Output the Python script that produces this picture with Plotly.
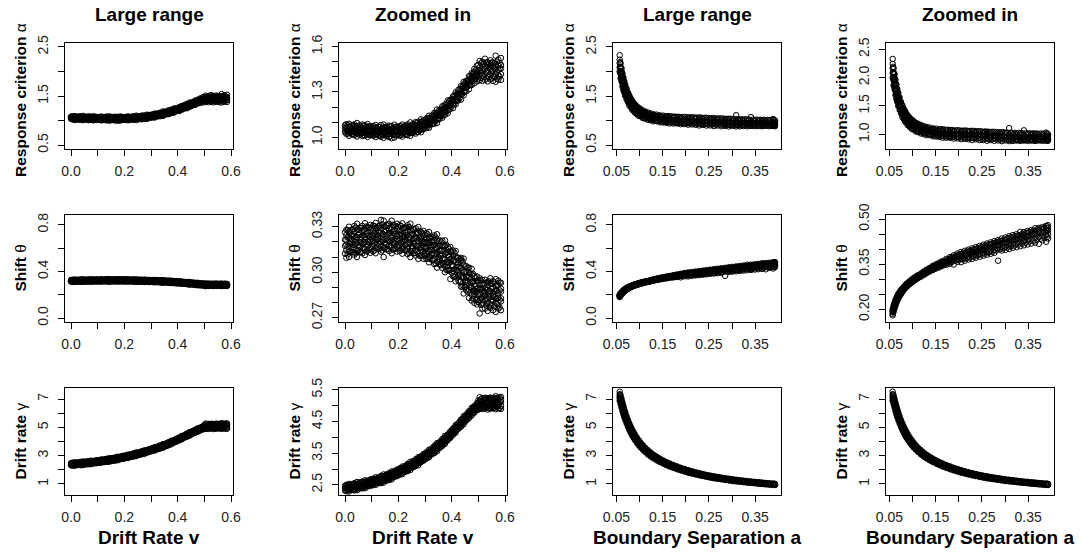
import plotly.graph_objects as go

# ---------------- data ----------------
v_grid = [0.005,0.015,0.025,0.035,0.045,0.055,0.065,0.075,0.085,0.095,
          0.105,0.115,0.125,0.135,0.145,0.155,0.165,0.175,0.185,0.195,
          0.205,0.215,0.225,0.235,0.245,0.255,0.265,0.275,0.285,0.295,
          0.305,0.315,0.325,0.335,0.345,0.355,0.365,0.375,0.385,0.395,
          0.405,0.415,0.425,0.435,0.445,0.455,0.465,0.475,0.485,0.495,
          0.505,0.515,0.525,0.535,0.545,0.555,0.565,0.575,0.585]
v_grid_b = [0.000,0.010,0.020,0.030,0.040,0.050,0.060,0.070,0.080,0.090,
            0.100,0.110,0.120,0.130,0.140,0.150,0.160,0.170,0.180,0.190,
            0.200,0.210,0.220,0.230,0.240,0.250,0.260,0.270,0.280,0.290,
            0.300,0.310,0.320,0.330,0.340,0.350,0.360,0.370,0.380,0.390,
            0.400,0.410,0.420,0.430,0.440,0.450,0.460,0.470,0.480,0.490,
            0.500,0.510,0.520,0.530,0.540,0.550,0.560,0.570,0.580]

alpha_v_1 = [1.023,1.010,1.022,1.014,1.006,1.018,1.009,1.012,1.003,1.015,
             1.011,1.002,1.013,1.004,0.996,1.010,1.002,0.994,0.999,1.013,
             1.011,1.005,1.019,1.014,1.010,1.028,1.025,1.035,1.034,1.055,
             1.061,1.063,1.086,1.090,1.095,1.123,1.130,1.150,1.159,1.190,
             1.193,1.218,1.244,1.250,1.278,1.304,1.318,1.346,1.358,1.370,
             1.378,1.373,1.380,1.370,1.383,1.373,1.367,1.382,1.380]
alpha_v_2 = [1.043,1.030,1.042,1.034,1.028,1.038,1.029,1.032,1.021,1.038,
             1.031,1.022,1.033,1.024,1.018,1.030,1.022,1.026,1.017,1.036,
             1.031,1.025,1.039,1.034,1.032,1.048,1.045,1.055,1.052,1.078,
             1.081,1.083,1.106,1.110,1.117,1.143,1.150,1.170,1.177,1.213,
             1.220,1.238,1.265,1.284,1.300,1.330,1.348,1.372,1.384,1.401,
             1.410,1.408,1.420,1.403,1.415,1.405,1.420,1.410,1.418]
alpha_v_3 = [1.058,1.046,1.055,1.047,1.053,1.044,1.051,1.043,1.049,1.041,
             1.046,1.039,1.045,1.037,1.043,1.036,1.044,1.038,1.045,1.039,
             1.047,1.042,1.051,1.047,1.058,1.055,1.067,1.066,1.080,1.081,
             1.097,1.100,1.118,1.122,1.144,1.149,1.173,1.180,1.206,1.215,
             1.243,1.254,1.284,1.296,1.327,1.340,1.371,1.384,1.413,1.422,
             1.442,1.438,1.452,1.440,1.450,1.441,1.452,1.444,1.455]
alpha_v_4 = [1.067,1.070,1.058,1.067,1.073,1.058,1.065,1.060,1.069,1.051,
             1.055,1.062,1.049,1.057,1.063,1.050,1.058,1.054,1.065,1.049,
             1.055,1.065,1.055,1.067,1.077,1.068,1.081,1.083,1.100,1.091,
             1.105,1.123,1.122,1.143,1.162,1.163,1.186,1.198,1.225,1.226,
             1.250,1.278,1.287,1.317,1.345,1.354,1.384,1.402,1.432,1.437,
             1.463,1.473,1.470,1.478,1.480,1.468,1.482,1.475,1.478]
alpha_v_5 = [1.087,1.090,1.078,1.086,1.095,1.078,1.085,1.080,1.088,1.073,
             1.075,1.082,1.069,1.082,1.085,1.070,1.078,1.074,1.084,1.071,
             1.075,1.085,1.075,1.086,1.099,1.088,1.101,1.103,1.119,1.113,
             1.125,1.143,1.142,1.162,1.184,1.183,1.206,1.218,1.244,1.248,
             1.270,1.298,1.314,1.340,1.367,1.374,1.404,1.425,1.452,1.475,
             1.505,1.500,1.520,1.498,1.510,1.495,1.540,1.515,1.525]
alpha_vb_1 = [1.034,1.024,1.030,1.020,1.026,1.023,1.028,1.015,1.022,1.017,
              1.021,1.014,1.021,1.010,1.016,1.014,1.021,1.009,1.017,1.014,
              1.020,1.016,1.026,1.018,1.028,1.030,1.041,1.035,1.049,1.053,
              1.066,1.070,1.088,1.090,1.108,1.120,1.141,1.145,1.169,1.183,
              1.204,1.220,1.248,1.260,1.287,1.307,1.336,1.346,1.375,1.389,
              1.390,1.392,1.400,1.390,1.398,1.392,1.400,1.388,1.402]
alpha_vb_2 = [1.061,1.045,1.053,1.046,1.058,1.047,1.053,1.038,1.047,1.039,
              1.048,1.035,1.044,1.036,1.048,1.038,1.046,1.032,1.042,1.036,
              1.047,1.037,1.049,1.044,1.060,1.054,1.066,1.058,1.074,1.075,
              1.093,1.091,1.111,1.116,1.140,1.144,1.166,1.168,1.194,1.205,
              1.233,1.241,1.271,1.286,1.319,1.331,1.361,1.369,1.400,1.411,
              1.441,1.428,1.452,1.436,1.458,1.438,1.455,1.435,1.455]
alpha_vb_3 = [1.080,1.081,1.071,1.080,1.073,1.076,1.067,1.077,1.067,1.072,
              1.067,1.071,1.062,1.070,1.063,1.067,1.060,1.071,1.062,1.069,
              1.066,1.073,1.067,1.078,1.075,1.083,1.080,1.097,1.094,1.108,
              1.112,1.127,1.129,1.150,1.155,1.173,1.180,1.207,1.214,1.238,
              1.252,1.277,1.289,1.320,1.334,1.360,1.375,1.408,1.420,1.444,
              1.480,1.490,1.488,1.495,1.487,1.495,1.490,1.500,1.492]

theta_v_1 = [0.3095,0.3100,0.3130,0.3115,0.3100,0.3133,0.3125,0.3113,0.3142,0.3128,
             0.3137,0.3125,0.3153,0.3135,0.3100,0.3150,0.3140,0.3125,0.3152,0.3136,
             0.3140,0.3122,0.3145,0.3120,0.3100,0.3125,0.3110,0.3088,0.3109,0.3088,
             0.3088,0.3065,0.3082,0.3053,0.3030,0.3050,0.3028,0.3000,0.3012,0.2955,
             0.2973,0.2940,0.2945,0.2905,0.2860,0.2880,0.2830,0.2813,0.2798,0.2788,
             0.2728,0.2760,0.2760,0.2745,0.2765,0.2750,0.2738,0.2760,0.2750]
theta_v_2 = [0.3145,0.3135,0.3165,0.3150,0.3140,0.3168,0.3160,0.3150,0.3178,0.3160,
             0.3172,0.3160,0.3188,0.3170,0.3160,0.3185,0.3175,0.3162,0.3188,0.3168,
             0.3175,0.3157,0.3180,0.3155,0.3140,0.3160,0.3145,0.3125,0.3145,0.3120,
             0.3123,0.3100,0.3117,0.3088,0.3070,0.3085,0.3063,0.3037,0.3048,0.3015,
             0.3008,0.2975,0.2980,0.2940,0.2910,0.2915,0.2885,0.2850,0.2856,0.2820,
             0.2818,0.2795,0.2815,0.2795,0.2785,0.2810,0.2798,0.2782,0.2808]
theta_v_3 = [0.3180,0.3175,0.3195,0.3180,0.3190,0.3201,0.3187,0.3200,0.3198,0.3210,
             0.3207,0.3200,0.3218,0.3200,0.3210,0.3218,0.3202,0.3212,0.3208,0.3218,
             0.3210,0.3197,0.3210,0.3185,0.3190,0.3193,0.3172,0.3175,0.3165,0.3170,
             0.3158,0.3140,0.3147,0.3118,0.3120,0.3118,0.3090,0.3087,0.3068,0.3065,
             0.3043,0.3015,0.3010,0.2970,0.2960,0.2948,0.2912,0.2900,0.2876,0.2870,
             0.2853,0.2835,0.2845,0.2825,0.2835,0.2843,0.2825,0.2832,0.2828]
theta_v_4 = [0.3213,0.3225,0.3217,0.3240,0.3230,0.3223,0.3243,0.3233,0.3242,0.3232,
             0.3240,0.3250,0.3240,0.3260,0.3250,0.3240,0.3258,0.3245,0.3252,0.3240,
             0.3243,0.3247,0.3232,0.3245,0.3230,0.3215,0.3228,0.3208,0.3209,0.3192,
             0.3191,0.3190,0.3169,0.3178,0.3160,0.3140,0.3146,0.3120,0.3112,0.3087,
             0.3076,0.3065,0.3032,0.3030,0.3000,0.2970,0.2968,0.2933,0.2920,0.2892,
             0.2886,0.2885,0.2867,0.2885,0.2875,0.2865,0.2881,0.2865,0.2872]
theta_v_5 = [0.3245,0.3265,0.3245,0.3270,0.3280,0.3258,0.3270,0.3286,0.3262,0.3280,
             0.3272,0.3290,0.3268,0.3290,0.3300,0.3275,0.3285,0.3298,0.3272,0.3288,
             0.3275,0.3287,0.3260,0.3275,0.3280,0.3250,0.3255,0.3261,0.3229,0.3240,
             0.3223,0.3230,0.3197,0.3208,0.3210,0.3175,0.3173,0.3173,0.3132,0.3135,
             0.3108,0.3105,0.3060,0.3080,0.3050,0.3005,0.2995,0.2986,0.2940,0.2940,
             0.2918,0.2925,0.2895,0.2915,0.2925,0.2900,0.2910,0.2918,0.2892]
theta_v_6 = [0.3280,0.3300,0.3280,0.3305,0.3320,0.3293,0.3305,0.3323,0.3298,0.3312,
             0.3307,0.3325,0.3303,0.3345,0.3340,0.3310,0.3320,0.3340,0.3308,0.3320,
             0.3310,0.3322,0.3295,0.3310,0.3320,0.3285,0.3290,0.3298,0.3265,0.3272,
             0.3258,0.3265,0.3232,0.3243,0.3250,0.3210,0.3208,0.3210,0.3168,0.3167,
             0.3143,0.3140,0.3095,0.3095,0.3090,0.3040,0.3030,0.3023,0.2975,0.2972,
             0.2960,0.2950,0.2950,0.2935,0.2960,0.2940,0.2955,0.2945,0.2930]
theta_vb_1 = [0.3123,0.3118,0.3138,0.3133,0.3125,0.3144,0.3136,0.3155,0.3137,0.3148,
              0.3151,0.3144,0.3162,0.3154,0.3145,0.3162,0.3152,0.3168,0.3148,0.3157,
              0.3157,0.3144,0.3156,0.3143,0.3128,0.3140,0.3125,0.3135,0.3108,0.3112,
              0.3107,0.3089,0.3096,0.3078,0.3059,0.3067,0.3046,0.3050,0.3016,0.3011,
              0.2997,0.2969,0.2965,0.2935,0.2905,0.2902,0.2872,0.2867,0.2826,0.2817,
              0.2804,0.2784,0.2793,0.2780,0.2770,0.2787,0.2776,0.2790,0.2768]
theta_vb_2 = [0.3173,0.3168,0.3188,0.3180,0.3188,0.3177,0.3196,0.3191,0.3187,0.3199,
              0.3201,0.3194,0.3212,0.3201,0.3208,0.3195,0.3212,0.3204,0.3198,0.3208,
              0.3207,0.3194,0.3206,0.3190,0.3191,0.3173,0.3185,0.3171,0.3158,0.3163,
              0.3157,0.3139,0.3146,0.3125,0.3122,0.3100,0.3106,0.3086,0.3066,0.3062,
              0.3047,0.3019,0.3015,0.2982,0.2968,0.2935,0.2932,0.2903,0.2876,0.2868,
              0.2854,0.2834,0.2843,0.2827,0.2833,0.2820,0.2836,0.2826,0.2818]
theta_vb_3 = [0.3215,0.3228,0.3219,0.3235,0.3231,0.3246,0.3233,0.3243,0.3250,0.3240,
              0.3243,0.3254,0.3243,0.3256,0.3251,0.3264,0.3249,0.3256,0.3261,0.3249,
              0.3249,0.3254,0.3237,0.3245,0.3234,0.3242,0.3222,0.3223,0.3221,0.3204,
              0.3199,0.3199,0.3177,0.3180,0.3165,0.3169,0.3143,0.3138,0.3129,0.3103,
              0.3089,0.3079,0.3046,0.3037,0.3011,0.3004,0.2969,0.2955,0.2939,0.2909,
              0.2896,0.2894,0.2874,0.2882,0.2876,0.2889,0.2873,0.2878,0.2881]
theta_vb_4 = [0.3263,0.3278,0.3269,0.3284,0.3295,0.3280,0.3292,0.3280,0.3301,0.3292,
              0.3291,0.3304,0.3293,0.3305,0.3315,0.3298,0.3308,0.3293,0.3312,0.3301,
              0.3297,0.3304,0.3287,0.3294,0.3298,0.3276,0.3281,0.3260,0.3272,0.3256,
              0.3247,0.3249,0.3227,0.3229,0.3229,0.3203,0.3202,0.3175,0.3180,0.3155,
              0.3137,0.3129,0.3096,0.3086,0.3075,0.3038,0.3028,0.2992,0.2990,0.2961,
              0.2944,0.2944,0.2924,0.2931,0.2940,0.2923,0.2932,0.2915,0.2932]

gamma_v_1 = [2.30,2.29,2.34,2.325,2.33,2.385,2.39,2.395,2.45,2.465,
             2.49,2.50,2.55,2.555,2.57,2.635,2.65,2.675,2.75,2.775,
             2.82,2.84,2.91,2.935,2.97,3.055,3.09,3.125,3.22,3.265,
             3.33,3.37,3.46,3.505,3.56,3.665,3.73,3.795,3.91,3.985,
             4.08,4.15,4.27,4.335,4.41,4.535,4.61,4.685,4.78,4.86,
             4.90,4.90,4.91,4.88,4.90,4.92,4.89,4.91,4.90]
gamma_v_2 = [2.35,2.35,2.39,2.385,2.395,2.435,2.45,2.46,2.50,2.515,
             2.54,2.56,2.60,2.615,2.635,2.685,2.71,2.74,2.80,2.825,
             2.87,2.90,2.96,2.995,3.035,3.105,3.15,3.19,3.27,3.315,
             3.38,3.43,3.51,3.565,3.625,3.715,3.79,3.86,3.96,4.035,
             4.13,4.21,4.32,4.395,4.475,4.585,4.67,4.75,4.86,4.925,
             4.97,4.98,5.00,4.97,4.99,5.01,4.98,5.00,4.99]
gamma_v_3 = [2.41,2.395,2.45,2.435,2.475,2.46,2.505,2.51,2.56,2.57,
             2.60,2.605,2.66,2.665,2.715,2.71,2.765,2.79,2.86,2.88,
             2.93,2.945,3.02,3.045,3.115,3.13,3.205,3.24,3.33,3.37,
             3.44,3.475,3.57,3.615,3.705,3.74,3.845,3.91,4.02,4.09,
             4.19,4.255,4.38,4.445,4.555,4.61,4.725,4.80,4.92,4.98,
             5.06,5.065,5.11,5.085,5.105,5.07,5.105,5.09,5.12]
gamma_v_4 = [2.45,2.47,2.47,2.495,2.525,2.525,2.55,2.58,2.58,2.625,
             2.64,2.68,2.68,2.725,2.765,2.775,2.81,2.86,2.88,2.935,
             2.97,3.02,3.04,3.105,3.165,3.195,3.25,3.31,3.35,3.425,
             3.48,3.55,3.59,3.675,3.755,3.805,3.89,3.98,4.04,4.145,
             4.23,4.33,4.40,4.505,4.605,4.675,4.77,4.87,4.94,5.035,
             5.15,5.16,5.18,5.15,5.19,5.17,5.20,5.18,5.19]
gamma_v_5 = [2.50,2.53,2.52,2.555,2.59,2.575,2.61,2.645,2.63,2.675,
             2.69,2.74,2.73,2.785,2.83,2.825,2.87,2.925,2.93,2.985,
             3.02,3.08,3.09,3.165,3.23,3.245,3.31,3.375,3.40,3.475,
             3.53,3.61,3.64,3.735,3.82,3.855,3.95,4.045,4.09,4.195,
             4.28,4.39,4.45,4.565,4.67,4.725,4.83,4.935,4.99,5.085,
             5.27,5.24,5.25,5.22,5.26,5.24,5.30,5.25,5.28]
gamma_vb_1 = [2.32,2.32,2.35,2.345,2.37,2.392,2.402,2.438,2.448,2.479,
              2.505,2.52,2.56,2.565,2.605,2.637,2.657,2.708,2.738,2.784,
              2.825,2.855,2.91,2.935,2.995,3.047,3.087,3.153,3.198,3.264,
              3.325,3.375,3.45,3.495,3.575,3.647,3.712,3.808,3.878,3.969,
              4.06,4.14,4.245,4.315,4.415,4.507,4.587,4.693,4.773,4.864,
              4.88,4.92,4.93,4.94,4.93,4.95,4.94,4.95,4.93]
gamma_vb_2 = [2.405,2.393,2.435,2.427,2.455,2.455,2.502,2.505,2.538,2.545,
              2.59,2.593,2.645,2.647,2.69,2.70,2.757,2.775,2.828,2.85,
              2.91,2.928,2.995,3.017,3.08,3.11,3.187,3.22,3.288,3.33,
              3.41,3.448,3.535,3.577,3.66,3.71,3.812,3.875,3.968,4.035,
              4.145,4.213,4.33,4.397,4.50,4.57,4.687,4.76,4.863,4.93,
              5.035,5.04,5.11,5.075,5.105,5.065,5.12,5.08,5.115]
gamma_vb_3 = [2.473,2.491,2.49,2.525,2.53,2.545,2.578,2.582,2.613,2.631,
              2.658,2.691,2.70,2.745,2.765,2.79,2.833,2.852,2.903,2.936,
              2.978,3.026,3.05,3.115,3.155,3.20,3.263,3.297,3.363,3.416,
              3.478,3.546,3.59,3.675,3.735,3.80,3.888,3.952,4.043,4.121,
              4.213,4.311,4.385,4.495,4.575,4.66,4.763,4.837,4.938,5.016,
              5.165,5.21,5.23,5.24,5.235,5.24,5.25,5.245,5.26]

a_grid = [0.057,0.059,0.061,0.063,0.065,0.067,0.069,0.072,0.075,0.078,
          0.081,0.084,0.087,0.090,0.094,0.098,0.102,0.107,0.112,0.118,
          0.124,0.130,0.137,0.144,0.151,0.158,0.165,0.173,0.181,0.189,
          0.197,0.205,0.213,0.221,0.229,0.237,0.245,0.253,0.261,0.269,
          0.277,0.285,0.293,0.301,0.309,0.317,0.325,0.333,0.341,0.349,
          0.357,0.365,0.373,0.381,0.389,0.393]
a_grid_b = [0.058,0.060,0.062,0.064,0.066,0.068,0.0705,0.0735,0.0765,0.0795,
            0.0825,0.0855,0.0885,0.092,0.096,0.100,0.1045,0.1095,0.115,0.121,
            0.127,0.1335,0.1405,0.1475,0.1545,0.1615,0.169,0.177,0.185,0.193,
            0.201,0.209,0.217,0.225,0.233,0.241,0.249,0.257,0.265,0.273,
            0.281,0.289,0.297,0.305,0.313,0.321,0.329,0.337,0.345,0.353,
            0.361,0.369,0.377,0.385,0.391]

alpha_a_1 = [2.00,1.86,1.80,1.69,1.62,1.57,1.50,1.43,1.37,1.30,
             1.27,1.22,1.20,1.16,1.13,1.095,1.085,1.05,1.04,1.015,
             1.005,0.985,0.985,0.965,0.96,0.955,0.94,0.94,0.94,0.925,
             0.928,0.915,0.92,0.913,0.90,0.912,0.898,0.90,0.887,0.898,
             0.885,0.892,0.88,0.892,0.88,0.883,0.89,0.883,0.891,0.885,
             0.889,0.883,0.892,0.886,0.89,0.885]
alpha_a_2 = [2.08,1.95,1.85,1.77,1.69,1.62,1.57,1.49,1.42,1.36,
             1.315,1.27,1.24,1.205,1.17,1.14,1.115,1.095,1.07,1.055,
             1.035,1.025,1.01,1.005,0.99,0.985,0.975,0.975,0.965,0.965,
             0.96,0.955,0.955,0.95,0.945,0.95,0.94,0.94,0.935,0.935,
             0.93,0.928,0.925,0.925,0.92,0.92,0.918,0.915,0.915,0.913,
             0.912,0.91,0.912,0.908,0.91,0.908]
alpha_a_3 = [2.17,2.01,1.93,1.82,1.76,1.67,1.63,1.53,1.48,1.40,
             1.37,1.31,1.29,1.24,1.22,1.175,1.16,1.125,1.115,1.085,
             1.08,1.055,1.055,1.035,1.035,1.015,1.02,1.005,1.01,0.995,
             1.003,0.99,0.995,0.983,0.99,0.977,0.983,0.97,0.977,0.963,
             0.97,0.957,0.965,0.952,0.96,0.948,0.955,0.943,0.951,0.94,
             0.949,0.938,0.947,0.936,0.945,0.935]
alpha_a_4 = [2.24,2.08,2.00,1.89,1.82,1.74,1.68,1.59,1.53,1.46,
             1.41,1.365,1.33,1.29,1.255,1.22,1.195,1.17,1.15,1.13,
             1.11,1.10,1.085,1.08,1.065,1.06,1.05,1.05,1.04,1.04,
             1.03,1.035,1.025,1.03,1.02,1.02,1.01,1.015,1.005,1.005,
             1.0,0.998,0.995,0.993,0.99,0.99,0.985,0.985,0.98,0.98,
             0.978,0.978,0.975,0.975,0.972,0.974]
alpha_a_5 = [2.33,2.16,2.06,1.96,1.88,1.80,1.73,1.65,1.57,1.51,
             1.45,1.41,1.36,1.33,1.29,1.26,1.235,1.205,1.185,1.165,
             1.145,1.13,1.12,1.105,1.10,1.09,1.085,1.075,1.075,1.065,
             1.07,1.06,1.065,1.055,1.06,1.05,1.055,1.04,1.045,1.035,
             1.04,1.03,1.035,1.025,1.11,1.02,1.015,1.02,1.07,1.01,
             1.005,1.01,1.0,1.005,1.03,1.0]
alpha_ab_1 = [1.98,1.88,1.78,1.71,1.63,1.575,1.50,1.435,1.37,1.32,
              1.28,1.24,1.21,1.17,1.14,1.115,1.09,1.065,1.05,1.03,
              1.02,1.00,0.995,0.98,0.975,0.965,0.96,0.955,0.95,0.945,
              0.94,0.94,0.935,0.93,0.928,0.925,0.92,0.918,0.915,0.913,
              0.91,0.905,0.905,0.90,0.90,0.90,0.898,0.895,0.897,0.895,
              0.896,0.893,0.895,0.892,0.895]
alpha_ab_2 = [2.10,1.96,1.88,1.785,1.72,1.645,1.585,1.50,1.445,1.38,
              1.345,1.295,1.27,1.225,1.20,1.163,1.148,1.115,1.105,1.078,
              1.073,1.05,1.05,1.03,1.03,1.013,1.018,1.003,1.008,0.994,
              1.002,0.988,0.994,0.982,0.989,0.975,0.982,0.969,0.975,0.962,
              0.969,0.956,0.964,0.951,0.959,0.947,0.954,0.942,0.951,0.94,
              0.949,0.938,0.947,0.936,0.945]
alpha_ab_3 = [2.19,2.07,1.97,1.88,1.80,1.735,1.66,1.58,1.515,1.455,
              1.405,1.365,1.325,1.29,1.25,1.225,1.195,1.17,1.15,1.135,
              1.115,1.105,1.09,1.085,1.07,1.09,1.085,1.08,1.075,1.07,
              1.07,1.065,1.065,1.06,1.06,1.055,1.05,1.05,1.045,1.045,
              1.04,1.035,1.035,1.03,1.03,1.025,1.025,1.02,1.02,1.018,
              1.017,1.015,1.015,1.013,1.013]

theta_a_1 = [0.180,0.193,0.204,0.213,0.222,0.229,0.235,0.244,0.251,0.258,
             0.265,0.270,0.275,0.279,0.284,0.289,0.294,0.299,0.304,0.309,
             0.314,0.320,0.326,0.331,0.336,0.340,0.345,0.348,0.352,0.349,
             0.358,0.357,0.362,0.366,0.368,0.372,0.375,0.379,0.382,0.385,
             0.388,0.362,0.396,0.398,0.401,0.405,0.407,0.410,0.413,0.416,
             0.419,0.422,0.418,0.430,0.425,0.436]
theta_a_2 = [0.185,0.198,0.209,0.218,0.226,0.233,0.239,0.248,0.255,0.261,
             0.268,0.273,0.278,0.282,0.287,0.292,0.297,0.302,0.307,0.312,
             0.317,0.323,0.329,0.335,0.340,0.344,0.349,0.353,0.358,0.362,
             0.366,0.367,0.370,0.374,0.377,0.381,0.384,0.388,0.391,0.395,
             0.398,0.402,0.406,0.409,0.413,0.417,0.420,0.424,0.427,0.431,
             0.434,0.438,0.441,0.444,0.448,0.450]
theta_a_3 = [0.191,0.202,0.214,0.221,0.231,0.236,0.244,0.250,0.259,0.263,
             0.271,0.274,0.281,0.283,0.290,0.293,0.300,0.303,0.310,0.313,
             0.321,0.325,0.333,0.337,0.344,0.347,0.354,0.357,0.364,0.367,
             0.375,0.376,0.383,0.384,0.391,0.391,0.398,0.399,0.406,0.406,
             0.413,0.414,0.421,0.421,0.428,0.429,0.435,0.436,0.442,0.443,
             0.449,0.450,0.456,0.456,0.463,0.462]
theta_a_4 = [0.195,0.208,0.218,0.227,0.234,0.241,0.247,0.255,0.262,0.267,
             0.273,0.278,0.283,0.287,0.292,0.297,0.302,0.307,0.312,0.317,
             0.323,0.329,0.335,0.342,0.347,0.352,0.357,0.363,0.369,0.374,
             0.380,0.384,0.388,0.392,0.396,0.400,0.404,0.408,0.412,0.416,
             0.420,0.424,0.428,0.431,0.435,0.439,0.442,0.446,0.449,0.453,
             0.456,0.460,0.463,0.466,0.470,0.472]
theta_a_5 = [0.200,0.213,0.222,0.231,0.238,0.245,0.251,0.258,0.265,0.270,
             0.275,0.280,0.285,0.289,0.294,0.299,0.304,0.309,0.314,0.319,
             0.326,0.332,0.338,0.345,0.350,0.356,0.361,0.368,0.374,0.380,
             0.386,0.391,0.395,0.399,0.403,0.407,0.411,0.415,0.419,0.423,
             0.427,0.431,0.436,0.439,0.443,0.447,0.450,0.458,0.457,0.461,
             0.464,0.470,0.471,0.474,0.478,0.480]
theta_ab_1 = [0.190,0.202,0.212,0.221,0.229,0.235,0.242,0.250,0.257,0.263,
              0.2695,0.2745,0.279,0.2835,0.2885,0.2935,0.2985,0.3035,0.3085,0.3135,
              0.319,0.325,0.331,0.336,0.341,0.345,0.350,0.354,0.358,0.362,
              0.366,0.367,0.370,0.373,0.376,0.380,0.383,0.386,0.390,0.392,
              0.396,0.400,0.403,0.406,0.410,0.413,0.416,0.419,0.422,0.426,
              0.428,0.432,0.435,0.438,0.441]
theta_ab_2 = [0.197,0.207,0.218,0.225,0.234,0.239,0.2475,0.254,0.2615,0.2665,
              0.273,0.277,0.2825,0.286,0.292,0.296,0.302,0.306,0.312,0.3165,
              0.3235,0.3285,0.3355,0.340,0.346,0.350,0.356,0.360,0.366,0.370,
              0.3755,0.3785,0.3835,0.3865,0.391,0.3935,0.3985,0.4015,0.406,0.4085,
              0.4135,0.4165,0.421,0.4235,0.4285,0.431,0.4355,0.438,0.4425,0.445,
              0.4495,0.452,0.456,0.4585,0.4625]
theta_ab_3 = [0.203,0.214,0.223,0.231,0.238,0.245,0.252,0.259,0.265,0.271,
              0.2755,0.2805,0.285,0.2895,0.2945,0.2995,0.3045,0.3095,0.3145,0.320,
              0.3265,0.3325,0.3385,0.345,0.350,0.3555,0.3605,0.366,0.372,0.378,
              0.383,0.388,0.392,0.396,0.400,0.404,0.408,0.412,0.416,0.420,
              0.424,0.428,0.432,0.436,0.440,0.444,0.447,0.451,0.455,0.458,
              0.462,0.466,0.469,0.472,0.476]

gamma_a_1 = [6.88,6.64,6.40,6.16,5.94,5.73,5.54,5.27,5.03,4.81,
             4.61,4.42,4.26,4.11,3.92,3.74,3.59,3.42,3.26,3.09,
             2.94,2.81,2.67,2.55,2.44,2.33,2.23,2.14,2.04,1.96,
             1.88,1.80,1.74,1.67,1.61,1.56,1.50,1.45,1.40,1.37,
             1.33,1.29,1.25,1.21,1.18,1.16,1.13,1.10,1.07,1.05,
             1.02,1.00,0.97,0.955,0.935,0.925]
gamma_a_2 = [7.06,6.81,6.57,6.32,6.10,5.88,5.68,5.41,5.16,4.94,
             4.73,4.54,4.37,4.21,4.02,3.84,3.68,3.51,3.34,3.18,
             3.02,2.88,2.74,2.62,2.50,2.39,2.29,2.20,2.10,2.01,
             1.93,1.85,1.78,1.72,1.66,1.60,1.54,1.49,1.44,1.40,
             1.36,1.32,1.28,1.245,1.215,1.185,1.155,1.125,1.10,1.08,
             1.05,1.03,1.00,0.98,0.96,0.95]
gamma_a_3 = [7.20,6.95,6.70,6.45,6.22,6.00,5.80,5.52,5.27,5.04,
             4.83,4.63,4.46,4.30,4.10,3.92,3.76,3.58,3.41,3.24,
             3.08,2.94,2.80,2.67,2.55,2.44,2.34,2.24,2.14,2.05,
             1.97,1.89,1.82,1.75,1.69,1.63,1.57,1.52,1.47,1.43,
             1.39,1.35,1.31,1.27,1.24,1.21,1.18,1.15,1.12,1.10,
             1.07,1.05,1.02,1.00,0.98,0.97]
gamma_a_4 = [7.34,7.09,6.83,6.58,6.34,6.12,5.92,5.63,5.38,5.14,
             4.93,4.72,4.55,4.39,4.18,4.00,3.84,3.65,3.48,3.30,
             3.14,3.00,2.86,2.72,2.60,2.49,2.39,2.28,2.18,2.09,
             2.01,1.93,1.86,1.78,1.72,1.66,1.60,1.55,1.50,1.46,
             1.42,1.38,1.34,1.295,1.265,1.235,1.205,1.175,1.14,1.12,
             1.09,1.07,1.04,1.02,1.00,0.99]
gamma_a_5 = [7.52,7.26,7.00,6.74,6.50,6.27,6.06,5.77,5.51,5.27,
             5.05,4.84,4.66,4.49,4.28,4.10,3.93,3.74,3.56,3.39,
             3.22,3.07,2.93,2.79,2.66,2.55,2.45,2.34,2.24,2.14,
             2.06,1.98,1.90,1.83,1.77,1.70,1.64,1.59,1.54,1.49,
             1.45,1.41,1.37,1.33,1.30,1.26,1.23,1.20,1.17,1.15,
             1.12,1.10,1.07,1.045,1.025,1.01]
gamma_ab_1 = [6.84,6.60,6.36,6.13,5.91,5.70,5.47,5.22,4.98,4.77,
              4.57,4.39,4.24,4.06,3.88,3.71,3.55,3.38,3.22,3.06,
              2.91,2.78,2.645,2.525,2.415,2.31,2.215,2.12,2.025,1.945,
              1.865,1.795,1.725,1.665,1.605,1.55,1.495,1.445,1.40,1.365,
              1.325,1.285,1.245,1.215,1.185,1.155,1.125,1.10,1.075,1.05,
              1.025,1.00,0.975,0.955,0.94]
gamma_ab_2 = [7.09,6.81,6.59,6.32,6.12,5.89,5.67,5.38,5.16,4.93,
              4.74,4.54,4.39,4.19,4.02,3.83,3.68,3.49,3.33,3.155,
              3.015,2.865,2.74,2.605,2.50,2.385,2.295,2.185,2.10,2.005,
              1.935,1.85,1.79,1.715,1.665,1.595,1.55,1.49,1.455,1.405,
              1.375,1.325,1.295,1.25,1.23,1.19,1.17,1.13,1.115,1.08,
              1.065,1.03,1.015,0.985,0.98]
gamma_ab_3 = [7.31,7.05,6.79,6.54,6.31,6.10,5.85,5.57,5.33,5.10,
              4.89,4.70,4.52,4.34,4.14,3.97,3.79,3.61,3.435,3.265,
              3.11,2.965,2.825,2.695,2.575,2.47,2.365,2.26,2.165,2.075,
              1.995,1.915,1.845,1.775,1.715,1.65,1.595,1.545,1.50,1.455,
              1.415,1.375,1.335,1.295,1.265,1.235,1.205,1.17,1.145,1.12,
              1.095,1.07,1.045,1.02,1.005]

col_titles = ["Large range", "Zoomed in", "Large range", "Zoomed in"]
row_titles = ["<b>Response criterion</b> α", "<b>Shift</b> θ", "<b>Drift rate</b> γ"]
x_titles = ["Drift Rate v", "Drift Rate v", "Boundary Separation a", "Boundary Separation a"]

v_ticks = [0.0, 0.1, 0.2, 0.3, 0.4, 0.5, 0.6]
v_ticktext = ["0.0", "", "0.2", "", "0.4", "", "0.6"]
a_ticks = [0.05, 0.10, 0.15, 0.20, 0.25, 0.30, 0.35]
a_ticktext = ["0.05", "", "0.15", "", "0.25", "", "0.35"]

# ---------------- layout geometry (pixels) ----------------
W, H = 1082, 553
col_px = [(65, 233), (339, 507), (613, 781), (886, 1054)]
row_px = [(43, 149), (215, 322), (388, 495)]


def join(pairs):
    xs, ys = [], []
    for grid, l in pairs:
        xs += grid
        ys += l
    return xs, ys


alpha_v = join([(v_grid, alpha_v_1), (v_grid_b, alpha_vb_1), (v_grid, alpha_v_2),
                (v_grid_b, alpha_vb_2), (v_grid, alpha_v_3), (v_grid, alpha_v_4),
                (v_grid_b, alpha_vb_3), (v_grid, alpha_v_5)])
theta_v = join([(v_grid, theta_v_1), (v_grid_b, theta_vb_1), (v_grid, theta_v_2),
                (v_grid_b, theta_vb_2), (v_grid, theta_v_3), (v_grid, theta_v_4),
                (v_grid_b, theta_vb_3), (v_grid, theta_v_5), (v_grid_b, theta_vb_4),
                (v_grid, theta_v_6)])
gamma_v = join([(v_grid, gamma_v_1), (v_grid_b, gamma_vb_1), (v_grid, gamma_v_2),
                (v_grid_b, gamma_vb_2), (v_grid, gamma_v_3), (v_grid, gamma_v_4),
                (v_grid_b, gamma_vb_3), (v_grid, gamma_v_5)])
alpha_a = join([(a_grid, alpha_a_1), (a_grid_b, alpha_ab_1), (a_grid, alpha_a_2),
                (a_grid_b, alpha_ab_2), (a_grid, alpha_a_3), (a_grid, alpha_a_4),
                (a_grid_b, alpha_ab_3), (a_grid, alpha_a_5)])
theta_a = join([(a_grid, theta_a_1), (a_grid_b, theta_ab_1), (a_grid, theta_a_2),
                (a_grid_b, theta_ab_2), (a_grid, theta_a_3), (a_grid, theta_a_4),
                (a_grid_b, theta_ab_3), (a_grid, theta_a_5)])
gamma_a = join([(a_grid, gamma_a_1), (a_grid_b, gamma_ab_1), (a_grid, gamma_a_2),
                (a_grid_b, gamma_ab_2), (a_grid, gamma_a_3), (a_grid, gamma_a_4),
                (a_grid_b, gamma_ab_3), (a_grid, gamma_a_5)])

yt_big_alpha = ([0.5, 1.0, 1.5, 2.0, 2.5], ["0.5", "", "1.5", "", "2.5"])
yt_big_theta = ([0.0, 0.2, 0.4, 0.6, 0.8], ["0.0", "", "0.4", "", "0.8"])
yt_big_gamma = ([1, 2, 3, 4, 5, 6, 7], ["1", "", "3", "", "5", "", "7"])

panels = [
    (0, 0, alpha_v, [0.42, 2.58], yt_big_alpha),
    (0, 1, alpha_v, [0.923, 1.624], ([1.0, 1.1, 1.2, 1.3, 1.4, 1.5, 1.6],
                                     ["1.0", "", "", "1.3", "", "", "1.6"])),
    (0, 2, alpha_a, [0.42, 2.58], yt_big_alpha),
    (0, 3, alpha_a, [0.741, 2.611], ([1.0, 1.5, 2.0, 2.5], ["1.0", "1.5", "2.0", "2.5"])),
    (1, 0, theta_v, [-0.034, 0.884], yt_big_theta),
    (1, 1, theta_v, [0.2672, 0.3377], ([0.27, 0.28, 0.29, 0.30, 0.31, 0.32, 0.33],
                                       ["0.27", "", "", "0.30", "", "", "0.33"])),
    (1, 2, theta_a, [-0.034, 0.884], yt_big_theta),
    (1, 3, theta_a, [0.158, 0.514], ([0.20, 0.25, 0.30, 0.35, 0.40, 0.45, 0.50],
                                     ["0.20", "", "", "0.35", "", "", "0.50"])),
    (2, 0, gamma_v, [0.22, 7.78], yt_big_gamma),
    (2, 1, gamma_v, [2.18, 5.56], ([2.5, 3.0, 3.5, 4.0, 4.5, 5.0, 5.5],
                                   ["2.5", "", "3.5", "", "4.5", "", "5.5"])),
    (2, 2, gamma_a, [0.22, 7.78], yt_big_gamma),
    (2, 3, gamma_a, [0.22, 7.78], yt_big_gamma),
]

FONT = "Liberation Sans, Arial, Helvetica, sans-serif"
fig = go.Figure()
layout = dict(
    width=W, height=H, autosize=False,
    margin=dict(l=0, r=0, t=0, b=0, pad=0, autoexpand=False),
    paper_bgcolor="white", plot_bgcolor="white", showlegend=False,
    font=dict(family=FONT, color="black"),
)

axis_common = dict(
    showline=True, mirror=True, linecolor="black", linewidth=1,
    ticks="outside", ticklen=6, tickwidth=1, tickcolor="black",
    showgrid=False, zeroline=False, automargin=False,
    tickfont=dict(family=FONT, size=14, color="#222222"),
)

for k, (r, c, (xs, ys), yrange, (yvals, ytext)) in enumerate(panels, start=1):
    suffix = "" if k == 1 else str(k)
    fig.add_trace(go.Scatter(
        x=xs, y=ys, mode="markers",
        marker=dict(symbol="circle-open", size=5.5, color="black",
                    line=dict(width=1, color="black")),
        xaxis="x" + suffix, yaxis="y" + suffix, hoverinfo="skip",
    ))
    x0, x1 = col_px[c]
    y0, y1 = row_px[r]
    if c < 2:
        xr, xv, xt = [-0.0225, 0.6075], v_ticks, v_ticktext
    else:
        xr, xv, xt = [0.0425, 0.406], a_ticks, a_ticktext
    layout["xaxis" + suffix] = dict(
        axis_common, domain=[x0 / W, x1 / W], range=xr,
        tickvals=xv, ticktext=xt, anchor="y" + suffix, ticklabelstandoff=3,
    )
    layout["yaxis" + suffix] = dict(
        axis_common, domain=[1 - y1 / H, 1 - y0 / H], range=yrange,
        tickvals=yvals, ticktext=ytext, anchor="x" + suffix, tickangle=-90,
        ticklabelstandoff=4,
    )

annotations = []
for c in range(4):
    x0, x1 = col_px[c]
    xc = (x0 + x1) / 2 / W
    annotations.append(dict(text="<b>%s</b>" % col_titles[c], x=xc, y=1 - 14 / H,
                            xref="paper", yref="paper", showarrow=False,
                            xanchor="center", yanchor="middle",
                            font=dict(size=19, family=FONT, color="black")))
    annotations.append(dict(text="<b>%s</b>" % x_titles[c], x=xc, y=1 - 537 / H,
                            xref="paper", yref="paper", showarrow=False,
                            xanchor="center", yanchor="middle",
                            font=dict(size=19, family=FONT, color="black")))
    for r in range(3):
        y0, y1 = row_px[r]
        yc = (y0 + y1) / 2 + (4 if r == 0 else 0)
        annotations.append(dict(text=row_titles[r], x=(x0 - 45) / W, y=1 - yc / H,
                                xref="paper", yref="paper", showarrow=False,
                                xanchor="center", yanchor="middle", textangle=-90,
                                font=dict(size=15.5, family=FONT, color="black")))
layout["annotations"] = annotations

fig.update_layout(**layout)
fig.write_html(
    "out.html",
    config={"responsive": False, "displayModeBar": False},
    post_script="document.body.style.margin='0';document.body.style.padding='0';"
                "document.body.style.overflow='hidden';",
)
